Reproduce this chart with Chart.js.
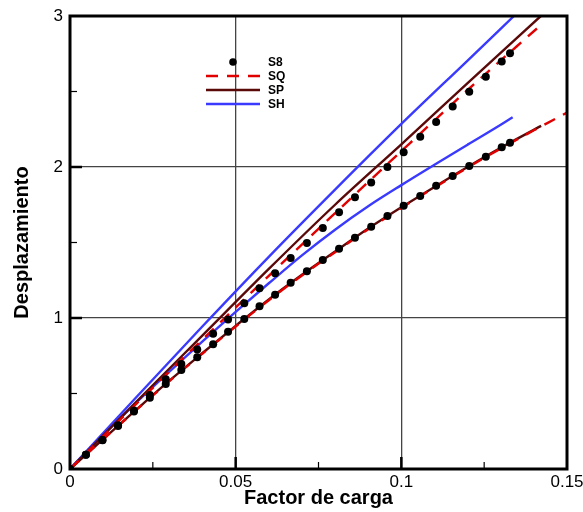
<!DOCTYPE html>
<html>
<head>
<meta charset="utf-8">
<script src="https://cdn.jsdelivr.net/npm/chart.js@4.4.1/dist/chart.umd.min.js"></script>
<style>
  html, body { margin: 0; padding: 0; background: #fff; }
  canvas { display: block; }
</style>
</head>
<body>
<canvas id="chart" width="583" height="512"></canvas>
<script>
// tick labels
const xTicks = [0, 0.05, 0.1, 0.15];
const yTicks = [0, 1, 2, 3];
const xMinor = [0.025, 0.075, 0.125];
const yMinor = [0.5, 1.5, 2.5];

// S8 (dots), both branches share the load steps
const s8X = [0, 0.0048, 0.0098, 0.0145, 0.0193, 0.0241, 0.0289, 0.0336, 0.0384, 0.0432,
  0.0477, 0.0526, 0.0572, 0.0619, 0.0666, 0.0715, 0.0763, 0.0812, 0.086, 0.0909,
  0.0958, 0.1007, 0.1057, 0.1105, 0.1155, 0.1205, 0.1255, 0.1303, 0.1328];
const s8Upper = [0, 0.095, 0.192, 0.29, 0.388, 0.49, 0.594, 0.695, 0.792, 0.895,
  0.99, 1.097, 1.197, 1.296, 1.397, 1.497, 1.596, 1.70, 1.80, 1.898,
  2.0, 2.097, 2.20, 2.298, 2.40, 2.499, 2.598, 2.698, 2.753];
const s8Lower = [0, 0.094, 0.19, 0.285, 0.38, 0.472, 0.563, 0.656, 0.74, 0.826,
  0.909, 0.993, 1.077, 1.154, 1.234, 1.309, 1.384, 1.459, 1.532, 1.605,
  1.675, 1.743, 1.808, 1.876, 1.94, 2.007, 2.068, 2.13, 2.161];

// upper branch curves
const upX = [0, 0.02, 0.04, 0.06, 0.08, 0.1, 0.12, 0.1421];
const sqUpper = [0, 0.431, 0.858, 1.279, 1.694, 2.105, 2.51, 2.94];
const spUpper = [0, 0.445, 0.885, 1.325, 1.75, 2.15, 2.555, 3.0];
const shUpX = [0, 0.02, 0.04, 0.06, 0.08, 0.1, 0.12, 0.134];
const shUpper = [0, 0.475, 0.945, 1.405, 1.85, 2.285, 2.705, 3.0];

// lower branch curves
const sqLowX = [0, 0.01, 0.02, 0.03, 0.04, 0.05, 0.06, 0.07, 0.08, 0.09, 0.1, 0.11, 0.12, 0.13, 0.14, 0.15];
const sqLower = [0, 0.197, 0.391, 0.582, 0.765, 0.944, 1.118, 1.282, 1.436, 1.588, 1.729, 1.864, 1.996, 2.122, 2.243, 2.36];
const spLowX = [0, 0.01, 0.02, 0.03, 0.04, 0.05, 0.06, 0.07, 0.08, 0.09, 0.1, 0.11, 0.12, 0.13, 0.1422];
const spLower = [0, 0.198, 0.393, 0.585, 0.768, 0.948, 1.123, 1.286, 1.44, 1.592, 1.733, 1.868, 2.0, 2.127, 2.272];
const shLowX = [0, 0.01, 0.02, 0.03, 0.04, 0.05, 0.06, 0.07, 0.08, 0.09, 0.1, 0.11, 0.12, 0.13, 0.1336];
const shLower = [0, 0.225, 0.44, 0.645, 0.845, 1.04, 1.23, 1.415, 1.585, 1.74, 1.88, 2.015, 2.148, 2.28, 2.33];

const FONT = "'Liberation Sans', Arial, sans-serif";
const RED = '#e00000', MAROON = '#5a0808', BLUE = '#3a3aff';
const DASH = [12, 9];

function pts(xs, ys) {
  return xs.map((x, i) => ({ x: x, y: ys[i] }));
}

function lineSet(label, xs, ys, color, dash, order) {
  return {
    label: label,
    data: pts(xs, ys),
    showLine: true,
    borderColor: color,
    borderWidth: 2.4,
    borderDash: dash,
    pointRadius: 0,
    fill: false,
    tension: 0.3,
    cubicInterpolationMode: 'monotone',
    order: order
  };
}

function dotSet(label, xs, ys) {
  return {
    label: label,
    data: pts(xs, ys),
    showLine: false,
    pointRadius: 4,
    pointBackgroundColor: '#000',
    pointBorderWidth: 0,
    order: 0
  };
}

const legendItems = [
  { text: 'S8', dot: true },
  { text: 'SQ', color: RED, dash: DASH },
  { text: 'SP', color: MAROON, dash: [] },
  { text: 'SH', color: BLUE, dash: [] }
];

// frame, inward ticks and the in-plot legend
const framePlugin = {
  id: 'frame',
  afterDatasetsDraw(chart) {
    const ctx = chart.ctx, a = chart.chartArea;
    const xs = chart.scales.x, ys = chart.scales.y;
    ctx.save();
    ctx.strokeStyle = '#000';
    ctx.lineCap = 'butt';
    ctx.lineWidth = 2.5;
    xTicks.slice(1, -1).forEach(v => {
      const p = xs.getPixelForValue(v);
      ctx.beginPath(); ctx.moveTo(p, a.bottom); ctx.lineTo(p, a.bottom - 12); ctx.stroke();
    });
    yTicks.slice(1, -1).forEach(v => {
      const p = ys.getPixelForValue(v);
      ctx.beginPath(); ctx.moveTo(a.left, p); ctx.lineTo(a.left + 12, p); ctx.stroke();
    });
    ctx.lineWidth = 1.2;
    xMinor.forEach(v => {
      const p = xs.getPixelForValue(v);
      ctx.beginPath(); ctx.moveTo(p, a.bottom); ctx.lineTo(p, a.bottom - 7); ctx.stroke();
    });
    yMinor.forEach(v => {
      const p = ys.getPixelForValue(v);
      ctx.beginPath(); ctx.moveTo(a.left, p); ctx.lineTo(a.left + 7, p); ctx.stroke();
    });
    ctx.lineWidth = 3;
    ctx.strokeRect(a.left, a.top, a.right - a.left, a.bottom - a.top);

    // legend
    const lx = a.left + 136, ly = a.top + 46;
    ctx.font = 'bold 12px ' + FONT;
    ctx.textBaseline = 'middle';
    ctx.textAlign = 'left';
    legendItems.forEach((it, i) => {
      const y = ly + i * 14;
      if (it.dot) {
        ctx.fillStyle = '#000';
        ctx.beginPath(); ctx.arc(lx + 27, y, 3.8, 0, Math.PI * 2); ctx.fill();
      } else {
        ctx.strokeStyle = it.color;
        ctx.lineWidth = 2.5;
        ctx.setLineDash(it.dash);
        ctx.beginPath(); ctx.moveTo(lx, y); ctx.lineTo(lx + 54, y); ctx.stroke();
        ctx.setLineDash([]);
      }
      ctx.fillStyle = '#000';
      ctx.fillText(it.text, lx + 62, y + 0.5);
    });
    ctx.restore();
  }
};

function zeroPad(scale) {
  scale.paddingLeft = 0; scale.paddingRight = 0;
  scale.paddingTop = 0; scale.paddingBottom = 0;
}

new Chart(document.getElementById('chart'), {
  type: 'scatter',
  data: {
    datasets: [
      dotSet('S8', s8X, s8Upper),
      dotSet('S8', s8X, s8Lower),
      lineSet('SQ', upX, sqUpper, RED, DASH, 1),
      lineSet('SQ', sqLowX, sqLower, RED, DASH, 1),
      lineSet('SP', upX, spUpper, MAROON, [], 2),
      lineSet('SP', spLowX, spLower, MAROON, [], 2),
      lineSet('SH', shUpX, shUpper, BLUE, [], 3),
      lineSet('SH', shLowX, shLower, BLUE, [], 3)
    ]
  },
  options: {
    responsive: false,
    animation: false,
    layout: { padding: { left: 0, right: 16, top: 16, bottom: 0 } },
    plugins: { legend: { display: false }, tooltip: { enabled: false } },
    scales: {
      x: {
        type: 'linear', min: 0, max: 0.15,
        afterBuildTicks: s => { s.ticks = xTicks.map(v => ({ value: v })); },
        afterFit: s => { s.height = 43; zeroPad(s); },
        ticks: {
          color: '#000', padding: 3, maxRotation: 0, autoSkip: false,
          font: { family: FONT, size: 17 },
          callback: v => String(v)
        },
        grid: {
          drawTicks: false, lineWidth: 1.3,
          color: c => (c.tick && (c.tick.value === 0 || c.tick.value === 0.15)) ? 'rgba(0,0,0,0)' : '#444'
        },
        border: { display: false },
        title: {
          display: true, text: 'Factor de carga', color: '#000',
          font: { family: FONT, size: 20, weight: 'bold' },
          padding: { top: 0, bottom: 2 }
        }
      },
      y: {
        type: 'linear', min: 0, max: 3,
        afterBuildTicks: s => { s.ticks = yTicks.map(v => ({ value: v })); },
        afterFit: s => { s.width = 70; zeroPad(s); },
        ticks: {
          color: '#000', padding: 7,
          font: { family: FONT, size: 17 },
          callback: v => String(v)
        },
        grid: {
          drawTicks: false, lineWidth: 1.3,
          color: c => (c.tick && (c.tick.value === 0 || c.tick.value === 3)) ? 'rgba(0,0,0,0)' : '#444'
        },
        border: { display: false },
        title: {
          display: true, text: 'Desplazamiento', color: '#000',
          font: { family: FONT, size: 20, weight: 'bold' },
          padding: { top: 10, bottom: 0 }
        }
      }
    }
  },
  plugins: [framePlugin]
});
</script>
</body>
</html>
